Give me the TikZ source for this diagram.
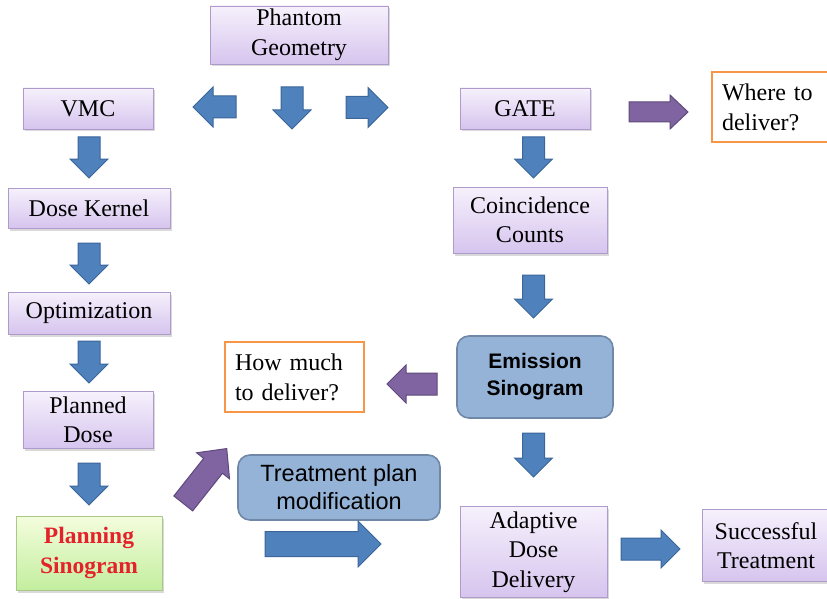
\documentclass[tikz,border=0pt]{standalone}
\usepackage{fontspec}
\setmainfont{Liberation Serif}
\newfontfamily\sansf{Liberation Sans}
\usetikzlibrary{shadows}

\definecolor{arrblue}{HTML}{4F81BD}
\definecolor{arrblueline}{HTML}{3A6699}
\definecolor{arrpurple}{HTML}{8064A2}
\definecolor{arrpurpleline}{HTML}{5E4A7A}
\definecolor{boxtop}{HTML}{F6F1FC}
\definecolor{boxbottom}{HTML}{D6C4EE}
\definecolor{boxline}{HTML}{AE9BCB}
\definecolor{greentop}{HTML}{F4FDDD}
\definecolor{greenbottom}{HTML}{C3EE9E}
\definecolor{greenline}{HTML}{A9C98A}
\definecolor{bluefill}{HTML}{95B3D7}
\definecolor{blueline}{HTML}{6F88A8}
\definecolor{orangeline}{HTML}{F79646}
\definecolor{sinored}{HTML}{E3222B}

% block arrow: #1 style, #2 centre, #3 angle, #4 length, #5 shaft width, #6 head width, #7 head length
\newcommand\blockarrow[7]{%
  \path[#1,shift={(#2)},rotate=#3]
    (-#4/2,-#5/2) -- (#4/2-#7,-#5/2) -- (#4/2-#7,-#6/2) -- (#4/2,0)
    -- (#4/2-#7,#6/2) -- (#4/2-#7,#5/2) -- (-#4/2,#5/2) -- cycle;}

\tikzset{
  procbox/.style={rectangle, draw=boxline, line width=0.8pt,
    top color=boxtop, bottom color=boxbottom,
    drop shadow={shadow xshift=1.5pt, shadow yshift=-2.5pt, opacity=0.25, fill=black!60},
    align=center, inner sep=0pt, font=\fontsize{24}{29.5}\selectfont},
  greenbox/.style={rectangle, draw=greenline, line width=0.8pt,
    top color=greentop, bottom color=greenbottom,
    drop shadow={shadow xshift=1.5pt, shadow yshift=-2.5pt, opacity=0.25, fill=black!60},
    align=center, inner sep=0pt,
    font=\fontsize{23.5}{30}\selectfont\bfseries, text=sinored},
  roundbox/.style={rectangle, rounded corners=12pt, draw=blueline, line width=1.6pt,
    fill=bluefill, align=center, inner sep=0pt},
  notebox/.style={rectangle, draw=orangeline, line width=2pt, fill=white,
    align=left, inner xsep=10pt, inner ysep=0pt, font=\fontsize{24}{30}\selectfont},
  bluearrow/.style={fill=arrblue, draw=arrblueline, line width=1pt, line join=miter},
  purplearrow/.style={fill=arrpurple, draw=arrpurpleline, line width=1pt, line join=miter},
}

\begin{document}
\begin{tikzpicture}[x=1pt, y=-1pt]
\useasboundingbox (0,0) rectangle (827,599);
\clip (0,0) rectangle (827,599);

% process boxes
\node[procbox, minimum width=178, minimum height=58] (phantom) at (299,35) {Phantom\\Geometry};
\node[procbox, minimum width=130, minimum height=41] (vmc) at (88,108.5) {VMC};
\node[procbox, minimum width=130, minimum height=41] (gate) at (525,108.5) {GATE};
\node[procbox, minimum width=162, minimum height=40] (kernel) at (89,208) {Dose Kernel};
\node[procbox, minimum width=154, minimum height=66] (coinc) at (530,220) {Coincidence\\Counts};
\node[procbox, minimum width=162, minimum height=42] (optim) at (89,313) {Optimization};
\node[procbox, minimum width=130, minimum height=57] (planned) at (88,420) {Planned\\Dose};
\node[greenbox, minimum width=146, minimum height=74] (plansino) at (89,553) {Planning\\Sinogram};
\node[procbox, minimum width=147, minimum height=91] (adaptive) at (533.5,552) {Adaptive\\Dose\\Delivery};
\node[procbox, minimum width=128, minimum height=72] (success) at (766,545.5) {Successful\\Treatment};

% rounded blue boxes
\node[roundbox, minimum width=156, minimum height=82,
      font=\sansf\fontsize{21}{27}\selectfont\bfseries] (emission) at (535,377) {Emission\\Sinogram};
\node[roundbox, minimum width=202, minimum height=65,
      font=\sansf\fontsize{23.5}{28}\selectfont] (treat) at (339,487.5) {Treatment plan\\modification};

% question boxes
\node[notebox, minimum height=70, text width=104pt, anchor=west] (where) at (711,107)
  {Where to\\deliver?};
\node[notebox, minimum height=70, text width=119pt] (howmuch) at (294.5,377)
  {How much\\to deliver?};

% block arrows
\blockarrow{bluearrow}{214.5,107}{180}{43}{22}{40}{20}
\blockarrow{bluearrow}{292,108}{-90}{42}{22}{38}{19}
\blockarrow{bluearrow}{367,107.5}{0}{42}{22}{40}{20}
\blockarrow{bluearrow}{89,157.5}{-90}{41}{22}{38}{19}
\blockarrow{bluearrow}{89,263.5}{-90}{41}{22}{38}{19}
\blockarrow{bluearrow}{89,362}{-90}{42}{22}{38}{19}
\blockarrow{bluearrow}{89,484}{-90}{42}{22}{38}{19}
\blockarrow{bluearrow}{533.5,157.5}{-90}{41}{22}{38}{19}
\blockarrow{bluearrow}{533.5,296.5}{-90}{43}{22}{38}{19}
\blockarrow{bluearrow}{533.5,455}{-90}{44}{22}{38}{19}
\blockarrow{bluearrow}{323,544}{0}{116}{25}{46}{23}
\blockarrow{bluearrow}{650.5,549}{0}{59}{22}{38}{19}
\blockarrow{purplearrow}{658.5,112}{0}{59}{20}{34}{18}
\blockarrow{purplearrow}{412,384}{180}{50}{22}{38}{19}
\blockarrow{purplearrow}{205,476}{51.6}{70}{24}{42}{22}
\end{tikzpicture}
\end{document}
